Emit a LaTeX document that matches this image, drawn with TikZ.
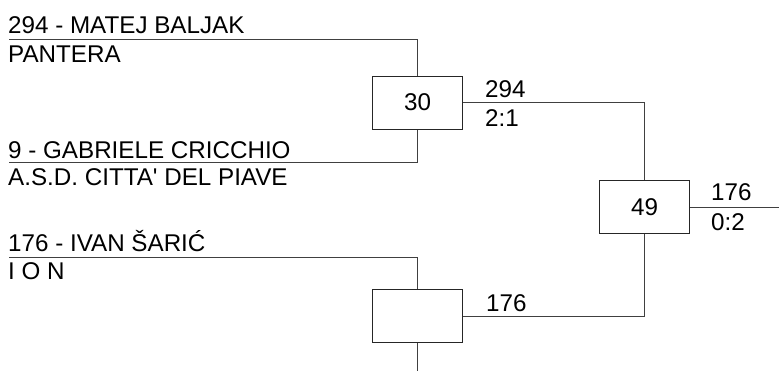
\documentclass[tikz,border=0pt]{standalone}
\usepackage{fontspec}
\newfontfamily\labfont{Liberation Sans}
\begin{document}
\begin{tikzpicture}[x=1pt,y=-1pt,
  lbl/.style={anchor=base west,inner sep=0pt,font=\labfont\fontsize{24.2}{28}\selectfont},
  matchbox/.style={draw=black!85,line width=1pt,minimum width=90pt,minimum height=53pt,inner sep=0pt,font=\labfont\fontsize{24.2}{28}\selectfont},
  wire/.style={draw=black!75,line width=1pt}]
\useasboundingbox (0,0) rectangle (779,371);
% boxes
\node[matchbox] (m30) at (417.5,102.6) {30};
\node[matchbox] (m49) at (644.5,207.5) {49};
\node[matchbox] (m0) at (417.5,316.3) {};
% player texts
\node[lbl] (t1) at (8,33.4) {294 - MATEJ BALJAK};
\node[lbl] (c1) at (8,63) {PANTERA};
\node[lbl] (t2) at (8,158.4) {9 - GABRIELE CRICCHIO};
\node[lbl] (c2) at (8,186) {A.S.D. CITTA' DEL PIAVE};
\node[lbl] (t3) at (8,251.7) {176 - IVAN ŠARIĆ};
\node[lbl] (c3) at (8,280) {I O N};
% results
\node[lbl] (r1) at (485,97.5) {294};
\node[lbl] (s1) at (485,126.4) {2:1};
\node[lbl] (r2) at (711,200.7) {176};
\node[lbl] (s2) at (711,230.5) {0:2};
\node[lbl] (r3) at (486,311.7) {176};
% coordinates
\coordinate (p1) at (9,39.6);
\coordinate (p2) at (9,163);
\coordinate (p3) at (9,257.3);
\coordinate (pe) at (779,207.5);
\coordinate (pb) at (417.5,371);
% wires
\draw[wire] (p1) -| (m30.north);
\draw[wire] (p2) -| (m30.south);
\draw[wire] (p3) -| (m0.north);
\draw[wire] (m0.south) -- (pb);
\draw[wire] (m30.east) -| (m49.north);
\draw[wire] (m0.east) -| (m49.south);
\draw[wire] (m49.east) -- (pe);
\end{tikzpicture}
\end{document}
